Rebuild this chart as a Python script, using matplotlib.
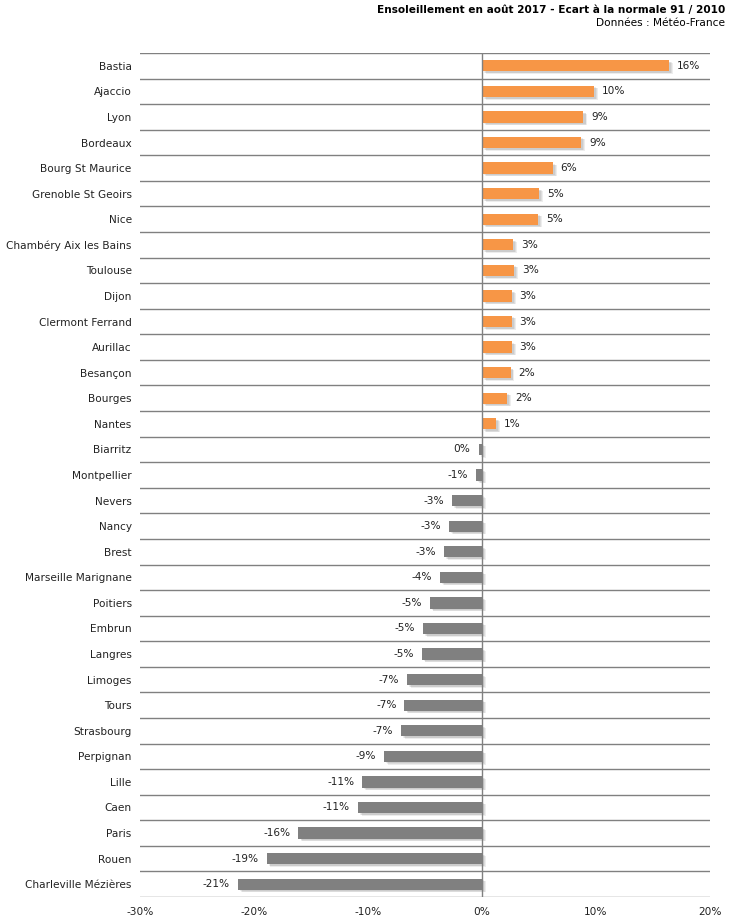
import matplotlib.pyplot as plt
import numpy as np

villes = ['Bastia', 'Ajaccio', 'Lyon', 'Bordeaux', 'Bourg St Maurice',
          'Grenoble St Geoirs', 'Nice', 'Chambéry Aix les Bains', 'Toulouse',
          'Dijon', 'Clermont Ferrand', 'Aurillac', 'Besançon', 'Bourges',
          'Nantes', 'Biarritz', 'Montpellier', 'Nevers', 'Nancy', 'Brest',
          'Marseille Marignane', 'Poitiers', 'Embrun', 'Langres', 'Limoges',
          'Tours', 'Strasbourg', 'Perpignan', 'Lille', 'Caen', 'Paris',
          'Rouen', 'Charleville Mézières']
ecarts = [16.4, 9.8, 8.9, 8.7, 6.2, 5.0, 4.9, 2.7, 2.8, 2.6, 2.6, 2.6, 2.5,
          2.2, 1.2, -0.3, -0.5, -2.6, -2.9, -3.3, -3.7, -4.6, -5.2, -5.3,
          -6.6, -6.8, -7.1, -8.6, -10.5, -10.9, -16.1, -18.9, -21.4]
etiquettes = ['16%', '10%', '9%', '9%', '6%', '5%', '5%', '3%', '3%', '3%',
              '3%', '3%', '2%', '2%', '1%', '0%', '-1%', '-3%', '-3%', '-3%',
              '-4%', '-5%', '-5%', '-5%', '-7%', '-7%', '-7%', '-9%', '-11%',
              '-11%', '-16%', '-19%', '-21%']

orange = '#F79646'
gris = '#808080'
fs = 7.6

fig = plt.figure(figsize=(7.3, 9.21), dpi=100)
ax = fig.add_axes([140 / 730, 24 / 921, 570 / 730, 844 / 921])

n = len(villes)
y = np.arange(n)
couleurs = [orange if v > 0 else gris for v in ecarts]

# ombre portée
for k in range(3):
    ax.barh(y + 0.06 + k * 0.02, ecarts, height=0.44, left=0.18 + k * 0.08,
            color='#000000', alpha=0.07, zorder=2)
ax.barh(y, ecarts, height=0.44, color=couleurs, zorder=3)

for yi, v, lab in zip(y, ecarts, etiquettes):
    if v > 0:
        ax.text(v + 0.7, yi, lab, va='center', ha='left', fontsize=fs, color='#222222')
    else:
        ax.text(v - 0.7, yi, lab, va='center', ha='right', fontsize=fs, color='#222222')

for b in np.arange(-0.5, n, 1):
    ax.axhline(b, color=gris, lw=1, zorder=1)
ax.axvline(0, color=gris, lw=1, zorder=4)

ax.set_ylim(n - 0.5, -0.5)
ax.set_xlim(-30, 20)
ax.set_yticks(y)
ax.set_yticklabels(villes, fontsize=fs)
ax.set_xticks([-30, -20, -10, 0, 10, 20])
ax.set_xticklabels(['-30%', '-20%', '-10%', '0%', '10%', '20%'], fontsize=fs)
ax.tick_params(length=0, pad=6, colors='#222222')
ax.tick_params(axis='x', pad=7)
for s in ax.spines.values():
    s.set_visible(False)

fig.text(725 / 730, 1 - 10 / 921, 'Ensoleillement en août 2017 - Ecart à la normale 91 / 2010',
         ha='right', va='center', fontsize=fs, fontweight='bold')
fig.text(725 / 730, 1 - 23 / 921, 'Données : Météo-France',
         ha='right', va='center', fontsize=fs)

plt.savefig('out.png', dpi=100)
